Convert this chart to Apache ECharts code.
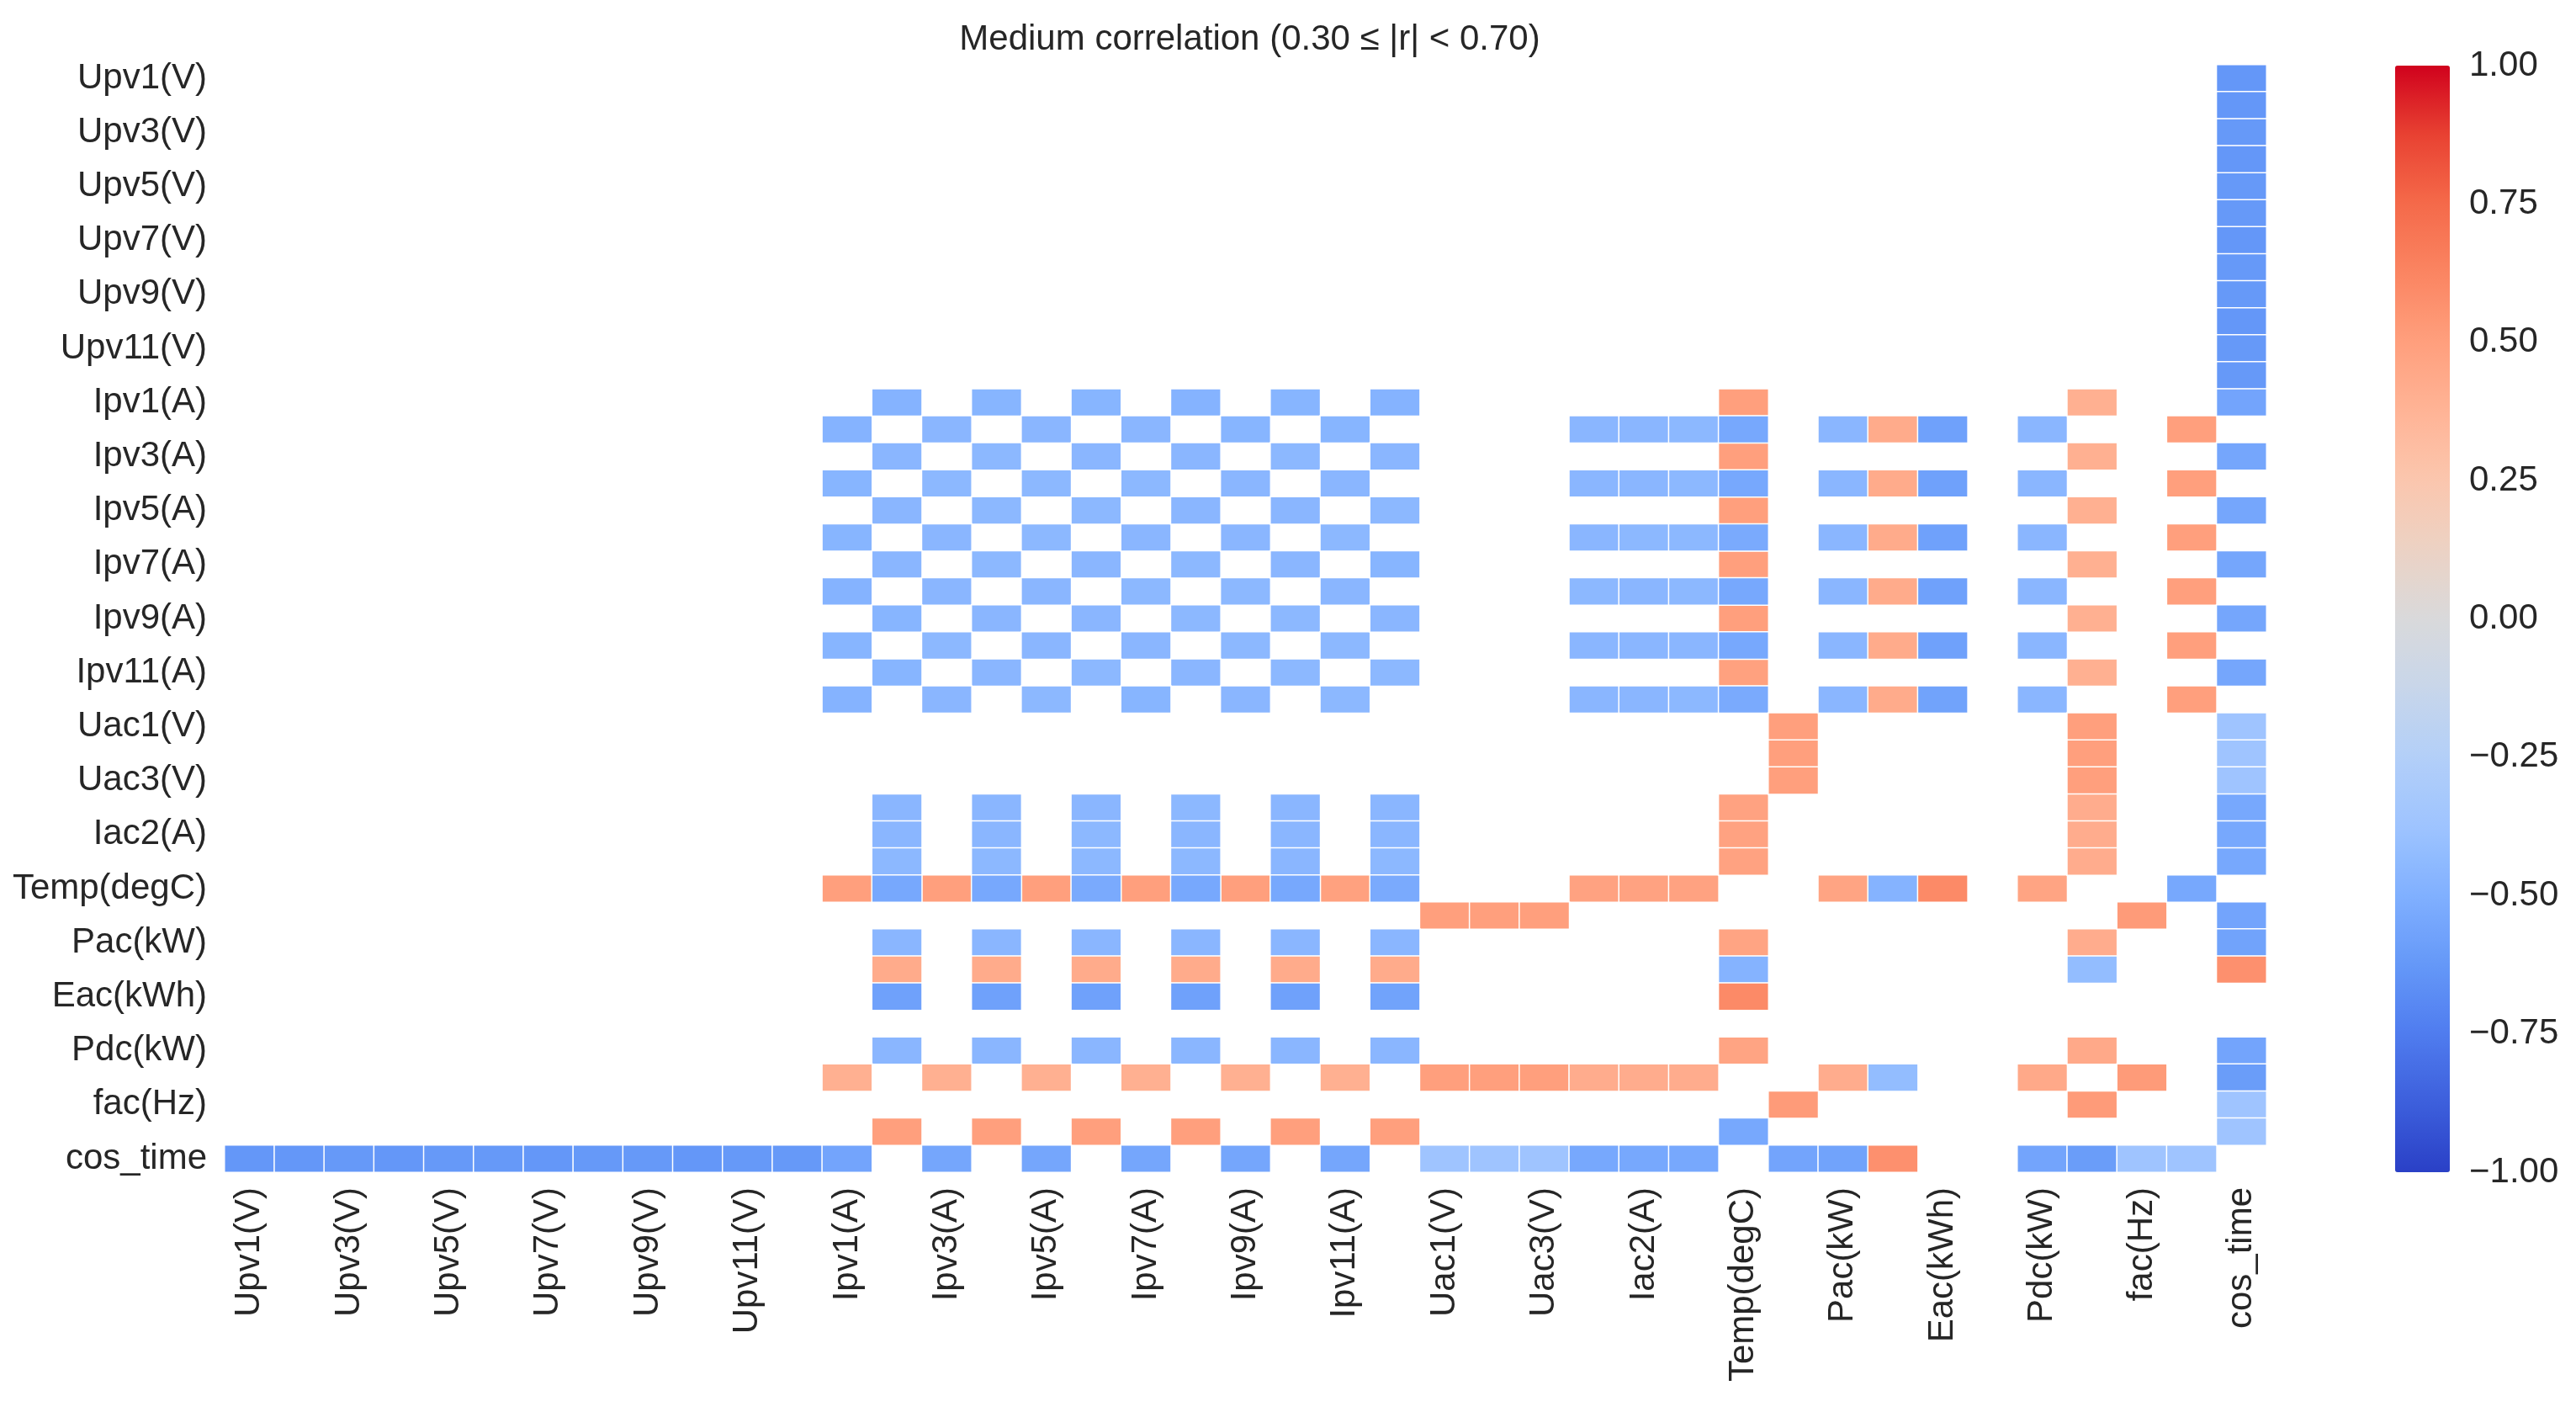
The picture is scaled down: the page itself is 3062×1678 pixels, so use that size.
<!DOCTYPE html>
<html>
<head>
<meta charset="utf-8">
<script src="https://cdn.jsdelivr.net/npm/echarts@6/dist/echarts.min.js"></script>
<style>
  html, body { margin: 0; padding: 0; background: #fff; }
  #chart { width: 3062px; height: 1678px; }
</style>
</head>
<body>
<div id="chart"></div>
<script>
const variables = [
  "Upv1(V)", "Upv2(V)", "Upv3(V)", "Upv4(V)", "Upv5(V)", "Upv6(V)",
  "Upv7(V)", "Upv8(V)", "Upv9(V)", "Upv10(V)", "Upv11(V)", "Upv12(V)",
  "Ipv1(A)", "Ipv2(A)", "Ipv3(A)", "Ipv4(A)", "Ipv5(A)", "Ipv6(A)",
  "Ipv7(A)", "Ipv8(A)", "Ipv9(A)", "Ipv10(A)", "Ipv11(A)", "Ipv12(A)",
  "Uac1(V)", "Uac2(V)", "Uac3(V)", "Iac1(A)", "Iac2(A)", "Iac3(A)",
  "Temp(degC)", "Sac(kVA)", "Pac(kW)", "Qac(kVar)", "Eac(kWh)", "Etot(kWh)",
  "Pdc(kW)", "PF", "fac(Hz)", "sin_time", "cos_time",
];

// lower triangle only: [row, col, r]; the matrix is symmetric
const ipvCells = [
  [13, 12, -0.48],
  [14, 13, -0.46],
  [15, 12, -0.47], [15, 14, -0.45],
  [16, 13, -0.46], [16, 15, -0.45],
  [17, 12, -0.47], [17, 14, -0.46], [17, 16, -0.45],
  [18, 13, -0.46], [18, 15, -0.45], [18, 17, -0.46],
  [19, 12, -0.48], [19, 14, -0.46], [19, 16, -0.46], [19, 18, -0.45],
  [20, 13, -0.47], [20, 15, -0.46], [20, 17, -0.46], [20, 19, -0.45],
  [21, 12, -0.47], [21, 14, -0.45], [21, 16, -0.46], [21, 18, -0.46], [21, 20, -0.45],
  [22, 13, -0.47], [22, 15, -0.46], [22, 17, -0.45], [22, 19, -0.46], [22, 21, -0.45],
  [23, 12, -0.48], [23, 14, -0.46], [23, 16, -0.45], [23, 18, -0.47], [23, 20, -0.46], [23, 22, -0.45],
];

const iacCells = [
  [27, 13, -0.46], [27, 15, -0.46], [27, 17, -0.46], [27, 19, -0.45], [27, 21, -0.46], [27, 23, -0.46],
  [28, 13, -0.46], [28, 15, -0.46], [28, 17, -0.45], [28, 19, -0.46], [28, 21, -0.46], [28, 23, -0.46],
  [29, 13, -0.45], [29, 15, -0.45], [29, 17, -0.45], [29, 19, -0.45], [29, 21, -0.46], [29, 23, -0.45],
];

const tempCells = [
  [30, 12, 0.5], [30, 14, 0.5], [30, 16, 0.5], [30, 18, 0.5], [30, 20, 0.5], [30, 22, 0.49],
  [30, 13, -0.54], [30, 15, -0.54], [30, 17, -0.53], [30, 19, -0.54], [30, 21, -0.54], [30, 23, -0.53],
  [30, 27, 0.48], [30, 28, 0.48], [30, 29, 0.48],
];

const powerCells = [
  [31, 24, 0.5], [31, 25, 0.5], [31, 26, 0.5],
  [32, 13, -0.46], [32, 15, -0.46], [32, 17, -0.46], [32, 19, -0.46], [32, 21, -0.46], [32, 23, -0.46],
  [32, 30, 0.47],
  [33, 13, 0.43], [33, 15, 0.43], [33, 17, 0.43], [33, 19, 0.43], [33, 21, 0.43], [33, 23, 0.43],
  [33, 30, -0.48],
  [34, 13, -0.58], [34, 15, -0.58], [34, 17, -0.58], [34, 19, -0.58], [34, 21, -0.58], [34, 23, -0.57],
  [34, 30, 0.6],
  [36, 13, -0.46], [36, 15, -0.46], [36, 17, -0.46], [36, 19, -0.46], [36, 21, -0.46], [36, 23, -0.46],
  [36, 30, 0.47],
];

const gridCells = [
  [37, 12, 0.4], [37, 14, 0.4], [37, 16, 0.4], [37, 18, 0.4], [37, 20, 0.4], [37, 22, 0.4],
  [37, 24, 0.5], [37, 25, 0.5], [37, 26, 0.5],
  [37, 27, 0.42], [37, 28, 0.42], [37, 29, 0.42],
  [37, 32, 0.42], [37, 33, -0.42], [37, 36, 0.44],
  [38, 31, 0.52], [38, 37, 0.52],
  [39, 13, 0.5], [39, 15, 0.5], [39, 17, 0.5], [39, 19, 0.5], [39, 21, 0.5], [39, 23, 0.5],
  [39, 30, -0.54],
];

const cosTimeCells = [
  [40, 0, -0.63], [40, 1, -0.63], [40, 2, -0.62], [40, 3, -0.63], [40, 4, -0.62], [40, 5, -0.62],
  [40, 6, -0.63], [40, 7, -0.62], [40, 8, -0.62], [40, 9, -0.63], [40, 10, -0.62], [40, 11, -0.62],
  [40, 12, -0.56], [40, 14, -0.55], [40, 16, -0.55], [40, 18, -0.55], [40, 20, -0.55], [40, 22, -0.55],
  [40, 24, -0.37], [40, 25, -0.37], [40, 26, -0.37],
  [40, 27, -0.54], [40, 28, -0.54], [40, 29, -0.54],
  [40, 31, -0.56], [40, 32, -0.57], [40, 33, 0.57],
  [40, 36, -0.56], [40, 37, -0.6], [40, 38, -0.37], [40, 39, -0.37],
];

const colormap = [
  "#2a40c6", "#3d5fdc", "#4f7cef", "#6598f8", "#80b0ff", "#9ec4ff",
  "#b3cff8", "#c8d6ea", "#d9d9db", "#ecd2c4", "#fbc6ae", "#ffb496",
  "#ff9f7d", "#fb8562", "#f56a4a", "#e84232", "#d0021d",
];

const cbTicks = [-1, -0.75, -0.5, -0.25, 0, 0.25, 0.5, 0.75, 1];

const font = "'Liberation Sans', Arial, sans-serif";
const ink = "#262626";
const fs = 42;

const lower = [...ipvCells, ...iacCells, ...tempCells, ...powerCells, ...gridCells, ...cosTimeCells];
const heat = [];
lower.forEach(([r, c, v]) => {
  heat.push([c, r, v]);
  heat.push([r, c, v]);
});

const grid = { left: 267, top: 77, width: 2427, height: 1316 };
const bar = { left: 2847, top: 78, width: 65, height: 1315 };

const fmt = (v) => v.toFixed(2).replace("-", "\u2212");

let chart = echarts.init(document.getElementById("chart"));
chart.setOption({
  animation: false,
  backgroundColor: "#ffffff",
  textStyle: { fontFamily: font, color: ink },
  title: {
    text: "Medium correlation (0.30 \u2264 |r| < 0.70)",
    left: grid.left + grid.width / 2,
    top: 21,
    textAlign: "center",
    textStyle: { fontFamily: font, fontSize: fs, fontWeight: "normal", color: ink },
  },
  grid: [
    { ...grid, containLabel: false },
    { ...bar, containLabel: false },
  ],
  xAxis: [
    {
      type: "category",
      data: variables,
      gridIndex: 0,
      axisLine: { show: false },
      axisTick: { show: false },
      splitLine: { show: false },
      axisLabel: { interval: 1, rotate: 90, fontSize: fs, color: ink, fontFamily: font, margin: 18 },
    },
    { type: "value", gridIndex: 1, show: false, min: 0, max: 1 },
  ],
  yAxis: [
    {
      type: "category",
      data: variables,
      inverse: true,
      gridIndex: 0,
      axisLine: { show: false },
      axisTick: { show: false },
      splitLine: { show: false },
      axisLabel: { interval: 1, fontSize: fs, color: ink, fontFamily: font, margin: 21 },
    },
    {
      type: "value",
      gridIndex: 1,
      position: "right",
      min: -1,
      max: 1,
      interval: 0.25,
      axisLine: { show: false },
      axisTick: { show: false },
      splitLine: { show: false },
      axisLabel: {
        fontSize: fs,
        color: ink,
        fontFamily: font,
        margin: 23,
        formatter: (v) => (cbTicks.includes(v) ? fmt(v) : ""),
      },
    },
  ],
  visualMap: {
    type: "continuous",
    min: -1,
    max: 1,
    seriesIndex: 0,
    show: true,
    calculable: false,
    hoverLink: false,
    orient: "vertical",
    left: bar.left,
    top: bar.top,
    padding: 0,
    itemWidth: bar.width,
    itemHeight: bar.height,
    text: null,
    showLabel: false,
    inRange: { color: colormap },
  },
  series: [
    {
      type: "heatmap",
      xAxisIndex: 0,
      yAxisIndex: 0,
      data: heat,
      itemStyle: { borderColor: "#ffffff", borderWidth: 1.5 },
      emphasis: { disabled: true },
    },
  ],
});
</script>
</body>
</html>
